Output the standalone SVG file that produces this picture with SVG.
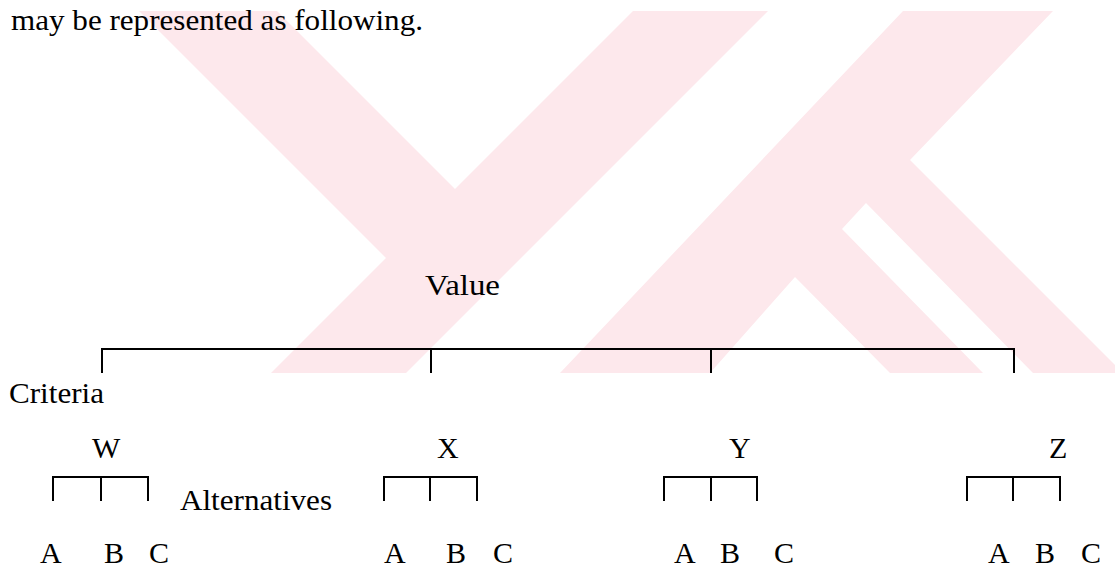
<svg xmlns="http://www.w3.org/2000/svg" width="1115" height="569" viewBox="0 0 1115 569">
<style>
text{font-family:"Liberation Serif","Times New Roman",serif;font-size:30px;fill:#000}
.ln{stroke:#000;stroke-width:2;fill:none}
.wm{fill:#fde8ec}
</style>
<rect width="1115" height="569" fill="#fff"/>
<g id="watermark">
<polygon class="wm" points="139,11 277,11 455,189 633,11 768,11 406,373 271,373 386,258"/>
<polygon class="wm" points="903,11 1053,11 910,160 1115,365 1115,373 1033,373 866,203 842,229 983,373 890,373 795,277 710,373 560,373"/>
</g>
<g id="intro"><text x="11" y="30" textLength="412" lengthAdjust="spacingAndGlyphs">may be represented as following.</text></g>
<g id="value"><text x="425" y="295" textLength="75" lengthAdjust="spacingAndGlyphs">Value</text></g>
<g id="criteria-label"><text x="9" y="403" textLength="95" lengthAdjust="spacingAndGlyphs">Criteria</text></g>
<g id="alternatives-label"><text x="180" y="510" textLength="152" lengthAdjust="spacingAndGlyphs">Alternatives</text></g>
<g id="connectors">
<path class="ln" d="M102,373 V349 H1014 V373 M431,349 V373 M711,349 V373"/>
<path class="ln" d="M53,501 V477 H148 V501 M101,477 V501"/>
<path class="ln" d="M384,501 V477 H477 V501 M430,477 V501"/>
<path class="ln" d="M664,501 V477 H757 V501 M711,477 V501"/>
<path class="ln" d="M967,501 V477 H1060 V501 M1013,477 V501"/>
</g>
<g id="W"><text x="92" y="458">W</text><text x="40" y="563">A</text><text x="104" y="563">B</text><text x="149" y="563">C</text></g>
<g id="X"><text x="437" y="458">X</text><text x="384" y="563">A</text><text x="446" y="563">B</text><text x="493" y="563">C</text></g>
<g id="Y"><text x="729" y="458">Y</text><text x="674" y="563">A</text><text x="720" y="563">B</text><text x="774" y="563">C</text></g>
<g id="Z"><text x="1049" y="458">Z</text><text x="988" y="563">A</text><text x="1035" y="563">B</text><text x="1081" y="563">C</text></g>
</svg>
